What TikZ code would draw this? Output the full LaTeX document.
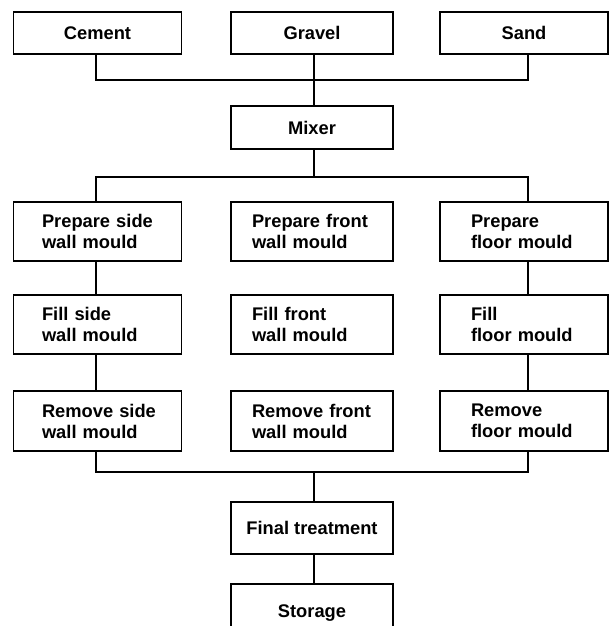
\documentclass[tikz,border=0pt]{standalone}
\usepackage{fontspec}
\setmainfont{Liberation Sans}
\begin{document}
\begin{tikzpicture}[x=1pt,y=-1pt,
  box/.style={draw, line width=1.6pt, inner sep=0pt, anchor=center,
    font=\fontsize{18.3}{21}\selectfont\bfseries, align=center},
  sidecol/.style={box, minimum width=168pt},
  midcol/.style={box, minimum width=162pt},
  leftstep/.style={sidecol, align=left, text width=111pt},
  midstep/.style={midcol, align=left, text width=120pt},
  rightstep/.style={sidecol, align=left, text width=106pt},
  link/.style={line width=1.3pt}]
\useasboundingbox (0,0) rectangle (610,626);
\clip (0,0) rectangle (610,626);

% raw materials
\node[sidecol, minimum height=42pt] (cement) at (97.5,33) {Cement};
\node[midcol,  minimum height=42pt] (gravel) at (312,33) {Gravel};
\node[sidecol, minimum height=42pt] (sand)   at (524,33) {Sand};

% mixing
\node[midcol, minimum height=43pt] (mixer) at (312,127.5) {Mixer};

% mould preparation
\node[leftstep,  minimum height=59pt] (pside)  at (97.5,231.5) {Prepare~side\\wall~mould};
\node[midstep,   minimum height=59pt] (pfront) at (312,231.5) {Prepare~front\\wall~mould};
\node[rightstep, minimum height=59pt] (pfloor) at (524,231.5) {Prepare\\floor~mould};

% filling
\node[leftstep,  minimum height=59pt] (fside)  at (97.5,324.5) {Fill~side\\wall~mould};
\node[midstep,   minimum height=59pt] (ffront) at (312,324.5) {Fill~front\\wall~mould};
\node[rightstep, minimum height=59pt] (ffloor) at (524,324.5) {Fill\\floor~mould};

% demoulding
\node[leftstep,  minimum height=60pt] (rside)  at (97.5,421) {Remove~side\\wall~mould};
\node[midstep,   minimum height=60pt] (rfront) at (312,421) {Remove~front\\wall~mould};
\node[rightstep, minimum height=60pt] (rfloor) at (524,421) {Remove\\floor~mould};

% finishing
\node[midcol, minimum height=52pt] (final)   at (312,528) {Final treatment};
\node[midcol, minimum height=58pt] (storage) at (312,613) {Storage};

% junction points
\coordinate (jin)  at (314,80);
\coordinate (jmix) at (314,177);
\coordinate (jout) at (314,472);

% connectors
\draw[link] ([xshift=-1.5pt]cement.south) |- (jin) -| ([xshift=4pt]sand.south);
\draw[link] ([xshift=2pt]gravel.south) -- ([xshift=2pt]mixer.north);
\draw[link] ([xshift=2pt]mixer.south) -- (jmix);
\draw[link] ([xshift=-1.5pt]pside.north) |- (jmix) -| ([xshift=4pt]pfloor.north);
\draw[link] ([xshift=-1.5pt]pside.south) -- ([xshift=-1.5pt]fside.north);
\draw[link] ([xshift=-1.5pt]fside.south) -- ([xshift=-1.5pt]rside.north);
\draw[link] ([xshift=4pt]pfloor.south) -- ([xshift=4pt]ffloor.north);
\draw[link] ([xshift=4pt]ffloor.south) -- ([xshift=4pt]rfloor.north);
\draw[link] ([xshift=-1.5pt]rside.south) |- (jout) -| ([xshift=4pt]rfloor.south);
\draw[link] (jout) -- ([xshift=2pt]final.north);
\draw[link] ([xshift=2pt]final.south) -- ([xshift=2pt]storage.north);
\end{tikzpicture}
\end{document}
